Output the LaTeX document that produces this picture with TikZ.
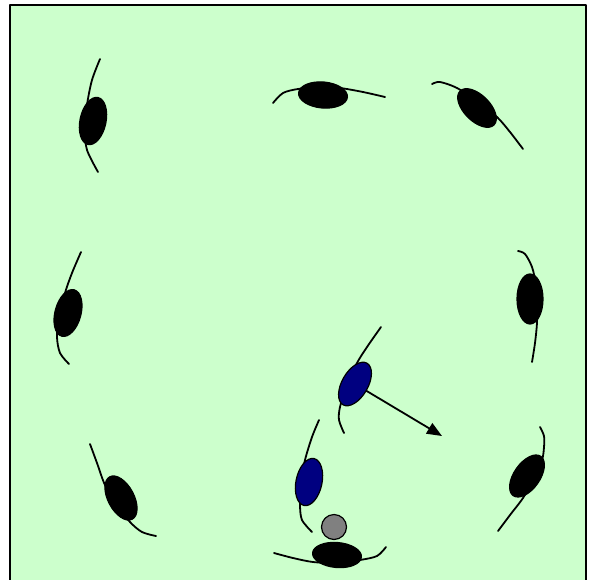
\documentclass[tikz,border=0pt]{standalone}
\usetikzlibrary{shapes.geometric,arrows.meta}
\definecolor{pitch}{HTML}{CCFFCC}
\definecolor{navyshirt}{HTML}{000080}
\definecolor{ballgray}{HTML}{808080}
\begin{document}
\begin{tikzpicture}[x=1pt,y=-1pt,>={Triangle[length=15pt,width=12pt]}, line join=round, line cap=round,
		player/.style={ellipse,draw=black,fill=black,line width=1.2pt,inner sep=0pt,minimum width=48pt,minimum height=26pt},
		blueplayer/.style={player,fill=navyshirt},
		arm/.style={line width=1.8pt}]
	\useasboundingbox (0,0) rectangle (591,579);
	\clip (0,0) rectangle (591,579);
	% San
	\draw[fill=pitch,line width=2pt] (10,4.5) rectangle (585.5,600);
	% Tay cac cau thu
	\draw[arm] plot[smooth] coordinates {(100,59) (92,80) (87,105) (85,130) (87,150) (98,172)};
	\draw[arm] plot[smooth] coordinates {(273,103) (283,93) (298,89) (320,87) (340,88) (363,92) (385,97)};
	\draw[arm] plot[smooth] coordinates {(432,84) (440,82) (457,88) (478,102) (497,117) (510,132) (523,149)};
	\draw[arm] plot[smooth] coordinates {(81,252) (72,273) (65,293) (59,318) (57,337) (60,353) (69,364)};
	\draw[arm] plot[smooth] coordinates {(518,251) (525,254) (532,267) (536,285) (537,305) (537,323) (535,343) (532,362)};
	\draw[arm] plot[smooth] coordinates {(381,327) (367,347) (357,363) (347,385) (340,407) (339,420) (344,433)};
	\draw[arm] plot[smooth] coordinates {(319,420) (312,437) (305,460) (301,482) (300,505) (302,520) (312,532)};
	\draw[arm] plot[smooth] coordinates {(274,553) (293,558) (313,562) (337,563) (360,560) (377,556) (386,547)};
	\draw[arm] plot[smooth] coordinates {(90,444) (97,463) (105,485) (117,505) (130,522) (142,532) (156,536)};
	\draw[arm] plot[smooth] coordinates {(540,427) (544,436) (544,447) (542,460) (533,480) (523,498) (510,515) (498,531)};
	% Cau thu
	\node[player,rotate=78] (p1) at (93,121) {};
	\node[player,rotate=-5,minimum width=49pt] (p2) at (323,95) {};
	\node[player,rotate=-45] (p3) at (477,108) {};
	\node[player,rotate=75] (p4) at (68,313) {};
	\node[player,rotate=90,minimum width=50pt] (p5) at (530,299) {};
	\node[blueplayer,rotate=60] (b1) at (355,384) {};
	\node[blueplayer,rotate=78] (b2) at (309,482) {};
	\node[player,rotate=-5,minimum width=49pt,minimum height=25pt] (p6) at (337,555) {};
	\node[player,rotate=-62] (p7) at (121,498) {};
	\node[player,rotate=55] (p8) at (527,476) {};
	% Bong
	\node[circle,draw=black,fill=ballgray,line width=1.2pt,inner sep=0pt,minimum size=25pt] (ball) at (334,527) {};
	% Huong chay
	\coordinate (run) at (442,436);
	\draw[->,line width=1.8pt] (b1) -- (run);
\end{tikzpicture}
\end{document}
